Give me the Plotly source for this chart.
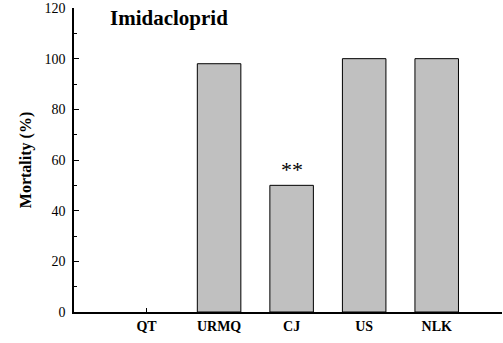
import plotly.graph_objects as go

# Mortality of each population after imidacloprid treatment
populations = ["QT", "URMQ", "CJ", "US", "NLK"]
mortality = [0, 98, 50, 100, 100]
significance = ["", "", "**", "", ""]

serif = "Liberation Serif"

fig = go.Figure()
fig.add_trace(go.Bar(
    x=populations,
    y=mortality,
    width=0.6,
    marker=dict(color="#c0c0c0",
                line=dict(color="black", width=[0 if v == 0 else 1 for v in mortality])),
    hoverinfo="skip",
))

# significance marks placed just above their bars
for pop, val, mark in zip(populations, mortality, significance):
    if mark:
        fig.add_annotation(
            x=pop, y=val, xref="x", yref="y",
            text=mark, showarrow=False,
            yanchor="bottom", yshift=1,
            font=dict(family=serif, size=22, color="black"),
        )

fig.add_annotation(
    text="<b>Imidacloprid</b>",
    x=(169 - 74) / 428, xref="paper", xanchor="center",
    y=0.967, yref="paper", yanchor="middle",
    showarrow=False,
    font=dict(family=serif, size=21, color="black"),
)

fig.update_layout(
    width=503,
    height=343,
    margin=dict(l=74, r=1, t=8, b=31),
    paper_bgcolor="white",
    plot_bgcolor="white",
    showlegend=False,
    bargap=0.4,
    font=dict(family=serif, color="black"),
)

fig.update_xaxes(
    type="category",
    range=[-1, 4.9],
    showline=True, linecolor="black", linewidth=1.5,
    ticks="inside", ticklen=4, tickcolor="black",
    tickfont=dict(family=serif, size=14, color="black"),
    tickprefix="<b>", ticksuffix="</b>",
    showgrid=False, zeroline=False,
    layer="below traces",
)

fig.update_yaxes(
    range=[0, 120],
    tickvals=[0, 20, 40, 60, 80, 100, 120],
    showline=True, linecolor="black", linewidth=1.5,
    ticks="inside", ticklen=5, tickcolor="black", tickwidth=1,
    minor=dict(ticks="inside", ticklen=3, tickcolor="black", dtick=10, showgrid=False),
    tickfont=dict(family=serif, size=14, color="black"),
    tickprefix="<b>", ticksuffix="</b>",
    ticklabelstandoff=4,
    showgrid=False, zeroline=False,
    title=dict(text="<b>Mortality (%)</b>", font=dict(family=serif, size=16, color="black"), standoff=9),
)

fig.write_html("out.html")
